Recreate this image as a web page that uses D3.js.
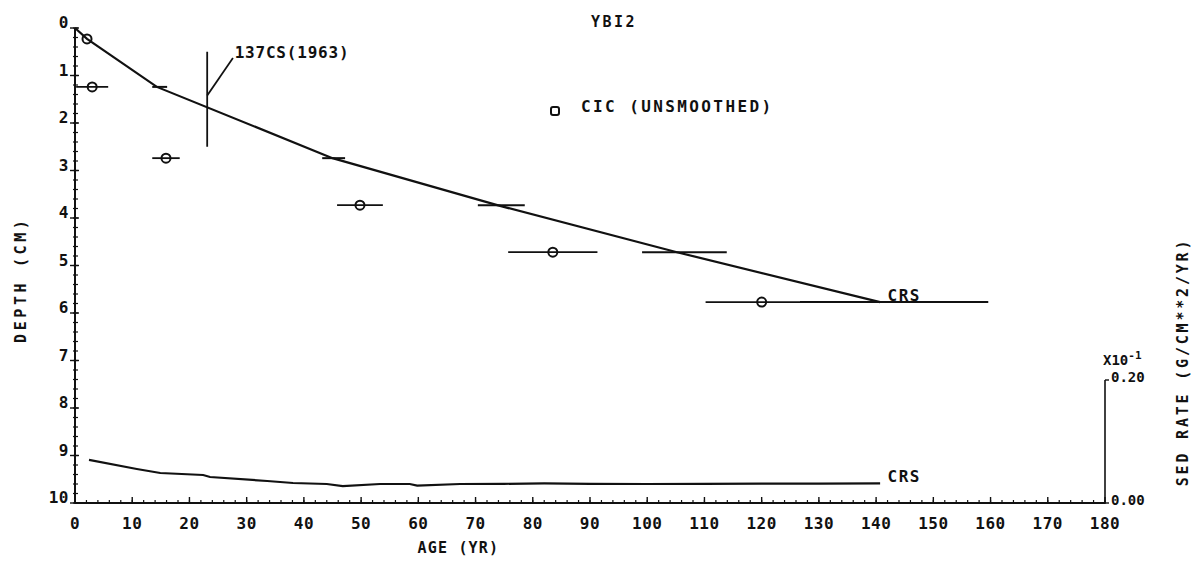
<!DOCTYPE html>
<html>
<head>
<meta charset="utf-8">
<script src="https://cdn.jsdelivr.net/npm/d3@7"></script>
<style>
  html, body { margin: 0; padding: 0; background: #fff; }
  svg { display: block; }
  text { font-family: "DejaVu Sans Mono", "Liberation Mono", monospace; fill: #111; font-weight: bold; }
</style>
</head>
<body>
<svg id="chart" width="1200" height="564"></svg>
<script>
// ---- Core YBI2: CRS age–depth model, CIC (unsmoothed) ages, CRS sedimentation rate ----

// CRS age–depth curve (age in yr, depth in cm)
const crsAge   = [0, 2.1, 14.3, 45.0, 73.8, 105.2, 140.7];
const crsDepth = [0, 0.23, 1.24, 2.74, 3.73, 4.72, 5.77];

// CRS age uncertainty at each dated layer
const crsBarDepth = [1.24, 2.74, 3.73, 4.72, 5.77];
const crsBarLow   = [13.5, 43.2, 70.4, 99.1, 126.7];
const crsBarHigh  = [16.1, 47.2, 78.6, 113.9, 159.6];

// CIC (unsmoothed) ages with their error
const cicAge   = [2.1, 3.0, 15.9, 49.8, 83.5, 120.0];
const cicDepth = [0.23, 1.24, 2.74, 3.73, 4.72, 5.77];
const cicErr   = [0, 2.8, 2.4, 4.0, 7.8, 9.8];

// 137Cs marker (1963)
const csAge = 23.1;
const csDepthTop = 0.5;
const csDepthBottom = 2.5;
const csLabel = "137CS(1963)";

// CRS sedimentation rate (x10^-1 G/CM**2/YR)
const rateAge  = [2.45, 10.8, 14.9, 22.4, 23.6, 33.6, 38.1, 44.0, 46.8, 53.3, 58.5, 59.8, 67.3, 75, 82, 90, 100, 110, 120, 130, 140.7];
const rateVal  = [0.070, 0.0553, 0.0488, 0.0455, 0.0423, 0.0358, 0.0325, 0.0309, 0.0276, 0.0309, 0.0309, 0.0284, 0.0309, 0.0312, 0.0318, 0.0312, 0.0309, 0.0312, 0.0315, 0.0315, 0.0318];

// Tick labels
const ageTicks   = d3.range(0, 181, 10);
const depthTicks = d3.range(0, 11, 1);
const rateTicks  = [0.00, 0.20];

const svg = d3.select("#chart");

const x = d3.scaleLinear().domain([0, 180]).range([75, 1105]);
const y = d3.scaleLinear().domain([0, 10]).range([28, 503]);
const yr = d3.scaleLinear().domain([0, 0.20]).range([503, 380]);

const ink = "#111";

// ---- Axes ----
// bottom (age) axis
const gx = svg.append("g").attr("transform", `translate(0,${y(10)})`);
gx.append("line").attr("x1", x(0)).attr("x2", x(180)).attr("stroke", ink).attr("stroke-width", 2);
gx.selectAll("line.minor").data(d3.range(0, 181, 2)).join("line")
  .attr("class", "minor").attr("x1", d => x(d)).attr("x2", d => x(d))
  .attr("y1", 0).attr("y2", -3).attr("stroke", ink).attr("stroke-width", 1.2);
gx.selectAll("line.major").data(ageTicks).join("line")
  .attr("class", "major").attr("x1", d => x(d)).attr("x2", d => x(d))
  .attr("y1", 1).attr("y2", -6).attr("stroke", ink).attr("stroke-width", 1.4);
gx.selectAll("text").data(ageTicks).join("text")
  .attr("x", d => x(d)).attr("y", 26).attr("text-anchor", "middle")
  .attr("font-size", 16).attr("letter-spacing", 0.5).text(d => d);

// left (depth) axis
const gy = svg.append("g").attr("transform", `translate(${x(0)},0)`);
gy.append("line").attr("y1", y(0)).attr("y2", y(10)).attr("stroke", ink).attr("stroke-width", 2);
gy.selectAll("line.minor").data(d3.range(0, 10.01, 0.2)).join("line")
  .attr("class", "minor").attr("y1", d => y(d)).attr("y2", d => y(d))
  .attr("x1", -2).attr("x2", 3).attr("stroke", ink).attr("stroke-width", 1.2);
gy.selectAll("line.major").data(depthTicks).join("line")
  .attr("class", "major").attr("y1", d => y(d)).attr("y2", d => y(d))
  .attr("x1", -5).attr("x2", 4).attr("stroke", ink).attr("stroke-width", 1.4);
gy.selectAll("text").data(depthTicks).join("text")
  .attr("x", -6).attr("y", d => y(d)).attr("text-anchor", "end")
  .attr("font-size", 16).attr("letter-spacing", 0.5).text(d => d);

// right (sedimentation rate) axis
const gr = svg.append("g").attr("transform", `translate(${x(180)},0)`);
gr.append("line").attr("y1", yr(0.20)).attr("y2", yr(0)).attr("stroke", ink).attr("stroke-width", 1.6);
gr.selectAll("line.tick").data(rateTicks).join("line")
  .attr("class", "tick").attr("y1", d => yr(d)).attr("y2", d => yr(d))
  .attr("x1", 0).attr("x2", 4).attr("stroke", ink).attr("stroke-width", 1.4);
gr.selectAll("text.tick").data(rateTicks).join("text")
  .attr("class", "tick").attr("x", 6).attr("y", d => yr(d) + 2)
  .attr("font-size", 14).text(d => d.toFixed(2));
const mult = gr.append("text").attr("x", -2).attr("y", yr(0.20) - 15).attr("font-size", 14);
mult.append("tspan").text("X10");
mult.append("tspan").attr("dy", -6).attr("font-size", 11).text("-1");

// axis titles
svg.append("text").attr("x", x(67)).attr("y", 553).attr("text-anchor", "middle")
  .attr("font-size", 15).attr("letter-spacing", 1.2).text("AGE (YR)");
svg.append("text").attr("transform", `translate(26,${y(5.3)}) rotate(-90)`)
  .attr("text-anchor", "middle").attr("font-size", 15).attr("letter-spacing", 3.6)
  .text("DEPTH (CM)");
svg.append("text").attr("transform", `translate(1188,362) rotate(-90)`)
  .attr("text-anchor", "middle").attr("font-size", 15).attr("letter-spacing", 2.8)
  .text("SED RATE (G/CM**2/YR)");

// title
svg.append("text").attr("x", 614).attr("y", 27).attr("text-anchor", "middle")
  .attr("font-size", 15).attr("letter-spacing", 2.5).text("YBI2");

// ---- CRS age–depth curve ----
const crsPts = crsAge.map((a, i) => [a, crsDepth[i]]);
svg.append("path").datum(crsPts)
  .attr("d", d3.line().x(d => x(d[0])).y(d => y(d[1])))
  .attr("fill", "none").attr("stroke", ink).attr("stroke-width", 2.2);

svg.selectAll("line.crsbar").data(crsBarDepth).join("line")
  .attr("class", "crsbar")
  .attr("x1", (d, i) => x(crsBarLow[i])).attr("x2", (d, i) => x(crsBarHigh[i]))
  .attr("y1", d => y(d)).attr("y2", d => y(d))
  .attr("stroke", ink).attr("stroke-width", 2);

svg.append("text").attr("x", x(142)).attr("y", y(5.77) - 1)
  .attr("font-size", 16).attr("letter-spacing", 1.5).text("CRS");

// ---- CIC points with error bars ----
svg.selectAll("line.cicbar").data(cicAge).join("line")
  .attr("class", "cicbar")
  .attr("x1", (d, i) => x(d - cicErr[i])).attr("x2", (d, i) => x(d + cicErr[i]))
  .attr("y1", (d, i) => y(cicDepth[i])).attr("y2", (d, i) => y(cicDepth[i]))
  .attr("stroke", ink).attr("stroke-width", 1.8);
svg.selectAll("circle.cic").data(cicAge).join("circle")
  .attr("class", "cic").attr("cx", d => x(d)).attr("cy", (d, i) => y(cicDepth[i]))
  .attr("r", 4.5).attr("fill", "none").attr("stroke", ink).attr("stroke-width", 2);

// legend
svg.append("rect").attr("x", 551).attr("y", 107).attr("width", 8).attr("height", 8)
  .attr("rx", 2).attr("fill", "none").attr("stroke", ink).attr("stroke-width", 2);
svg.append("text").attr("x", 581).attr("y", 112)
  .attr("font-size", 16).attr("letter-spacing", 2.4).text("CIC (UNSMOOTHED)");

// ---- 137Cs marker ----
svg.append("line").attr("x1", x(csAge)).attr("x2", x(csAge))
  .attr("y1", y(csDepthTop)).attr("y2", y(csDepthBottom))
  .attr("stroke", ink).attr("stroke-width", 1.8);
svg.append("line").attr("x1", x(csAge)).attr("y1", y(1.42))
  .attr("x2", x(27.6)).attr("y2", y(0.63))
  .attr("stroke", ink).attr("stroke-width", 1.8);
svg.append("text").attr("x", x(27.9)).attr("y", y(0.63))
  .attr("font-size", 16).attr("letter-spacing", 0.8).text(csLabel);

// ---- CRS sedimentation rate ----
const ratePts = rateAge.map((a, i) => [a, rateVal[i]]);
svg.append("path").datum(ratePts)
  .attr("d", d3.line().x(d => x(d[0])).y(d => yr(d[1])))
  .attr("fill", "none").attr("stroke", ink).attr("stroke-width", 2.2);
svg.append("text").attr("x", x(142)).attr("y", yr(rateVal[rateVal.length - 1]) - 1)
  .attr("font-size", 16).attr("letter-spacing", 1.5).text("CRS");
</script>
</body>
</html>
